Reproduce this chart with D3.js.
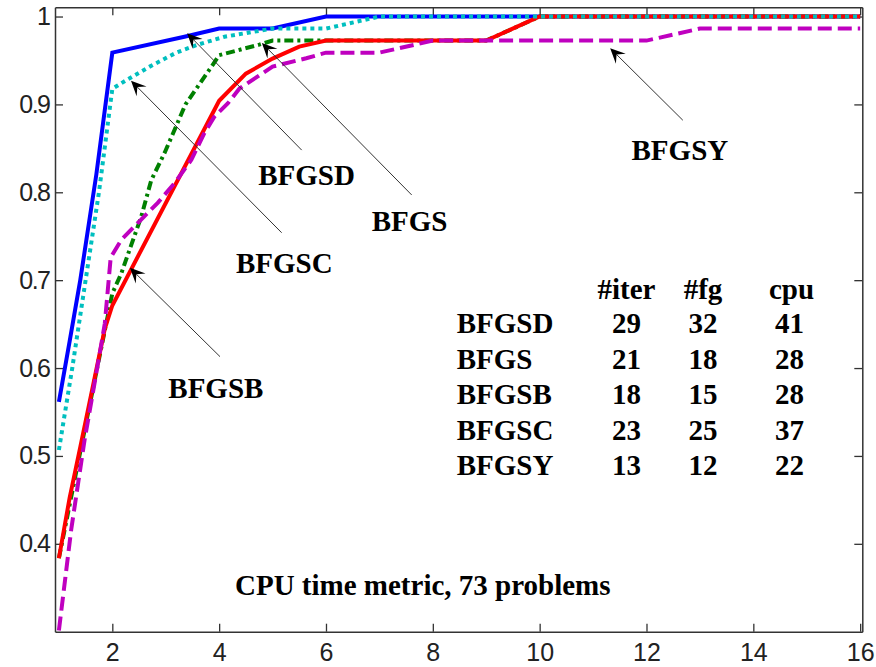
<!DOCTYPE html>
<html>
<head>
<meta charset="utf-8">
<script src="https://cdn.jsdelivr.net/npm/d3@7/dist/d3.min.js"></script>
<style>
  body { margin: 0; background: #fff; }
  svg { display: block; }
  .axis text { font-family: "Liberation Sans", Arial, sans-serif; font-size: 25px; fill: #222; }
  .y-axis text { letter-spacing: -1.5px; }
  .axis .domain { stroke: #333; stroke-width: 1.5; }
  .axis .tick line { stroke: #333; stroke-width: 1.3; }
  .lbl { font-family: "Liberation Serif", "Times New Roman", serif; font-weight: bold; font-size: 29px; fill: #000; }
</style>
</head>
<body>
<svg id="chart" width="876" height="667"></svg>
<script>
// performance profile data (fraction of 73 problems)
var bfgsdX = [1, 1.2, 1.4, 1.7, 2, 3.35, 4, 5, 6, 16];
var bfgsdY = [0.5616, 0.63, 0.70, 0.82, 0.9589, 0.977, 0.9863, 0.9863, 1, 1];

var bfgsX = [1, 1.5, 2, 2.17, 2.36, 2.54, 2.73, 2.98, 3.37, 3.88, 4, 4.75, 5, 9, 10, 16];
var bfgsY = [0.3836, 0.535, 0.685, 0.708, 0.741, 0.772, 0.814, 0.845, 0.90, 0.945, 0.956, 0.968, 0.9726, 0.9726, 1, 1];

var bfgsbX = [1, 1.2, 1.4, 1.86, 2, 4, 4.5, 5, 5.5, 6, 9, 10, 16];
var bfgsbY = [0.3836, 0.452, 0.51, 0.645, 0.6712, 0.9041, 0.935, 0.9521, 0.9658, 0.9726, 0.9726, 1, 1];

var bfgscX = [1, 1.25, 1.45, 1.75, 2, 2.3, 2.7, 3.2, 3.6, 4.1, 5, 6, 7, 16];
var bfgscY = [0.5068, 0.60, 0.68, 0.80, 0.9178, 0.929, 0.943, 0.959, 0.968, 0.977, 0.9863, 0.9863, 1, 1];

var bfgsyX = [1, 1.23, 1.48, 1.7, 1.86, 1.97, 2.17, 2.54, 2.85, 3.16, 3.48, 3.72, 3.91, 4.16, 4.38, 5, 5.63, 6, 7, 8, 12, 13, 16];
var bfgsyY = [0.3014, 0.416, 0.518, 0.594, 0.651, 0.726, 0.746, 0.769, 0.788, 0.81, 0.837, 0.867, 0.886, 0.901, 0.918, 0.943, 0.9525, 0.9589, 0.9589, 0.9726, 0.9726, 0.9863, 0.9863];

var xTicks = [2, 4, 6, 8, 10, 12, 14, 16];
var yTicks = [0.4, 0.5, 0.6, 0.7, 0.8, 0.9, 1];

// table of wins
var tableMethods = ['BFGSD', 'BFGS', 'BFGSB', 'BFGSC', 'BFGSY'];
var tableHeader = ['#iter', '#fg', 'cpu'];
var iterWins = [29, 21, 18, 23, 13];
var fgWins = [32, 18, 15, 25, 12];
var cpuWins = [41, 28, 28, 37, 22];

// annotation arrows: label, tip (x,y), tail (x,y), text anchor (x,y) in data units
var noteNames = ['BFGSD', 'BFGS', 'BFGSC', 'BFGSB', 'BFGSY'];
var noteTips = [[3.40, 0.981], [4.80, 0.970], [2.35, 0.927], [2.33, 0.714], [11.32, 0.964]];
var noteTails = [[5.545, 0.848], [7.604, 0.797], [5.17, 0.754], [4.016, 0.613], [12.68, 0.882]];
var noteText = [[4.73, 0.8085], [6.855, 0.7555], [4.315, 0.708], [3.048, 0.566], [11.72, 0.837]];

var title = 'CPU time metric, 73 problems';

var svg = d3.select('#chart');

var xScale = d3.scaleLinear().domain([0.927, 16.04]).range([55, 862.3]);
var yScale = d3.scaleLinear().domain([0.3, 1.0105]).range([631.7, 7.3]);

var fmtY = v => v === 1 ? '1' : v.toFixed(1);

svg.append('g')
    .classed('axis', true)
    .attr('transform', 'translate(0,' + yScale.range()[0] + ')')
    .call(d3.axisBottom(xScale).tickValues(xTicks).tickSizeInner(-8).tickSizeOuter(0).tickPadding(11.5));
svg.append('g')
    .classed('axis', true)
    .attr('transform', 'translate(0,' + yScale.range()[1] + ')')
    .call(d3.axisTop(xScale).tickValues(xTicks).tickSizeInner(-8).tickSizeOuter(0).tickFormat(''));
svg.append('g')
    .classed('axis y-axis', true)
    .attr('transform', 'translate(' + xScale.range()[0] + ',0)')
    .call(d3.axisLeft(yScale).tickValues(yTicks).tickSizeInner(-8).tickSizeOuter(0).tickPadding(5.5).tickFormat(fmtY));
svg.append('g')
    .classed('axis', true)
    .attr('transform', 'translate(' + xScale.range()[1] + ',0)')
    .call(d3.axisRight(yScale).tickValues(yTicks).tickSizeInner(-8).tickSizeOuter(0).tickFormat(''));

var series = [
    { xs: bfgsdX, ys: bfgsdY, color: '#0000ff', dash: null },
    { xs: bfgsX, ys: bfgsY, color: '#008000', dash: '9,4,3,4' },
    { xs: bfgsbX, ys: bfgsbY, color: '#ff0000', dash: null },
    { xs: bfgscX, ys: bfgscY, color: '#00bfbf', dash: '4,4' },
    { xs: bfgsyX, ys: bfgsyY, color: '#bf00bf', dash: '14,6' }
];

var line = d3.line()
    .x(d => xScale(d[0]))
    .y(d => yScale(d[1]));

svg.selectAll('.curve')
    .data(series)
    .enter()
    .append('path')
    .classed('curve', true)
    .attr('d', s => line(s.xs.map((x, i) => [x, s.ys[i]])))
    .attr('fill', 'none')
    .attr('stroke', s => s.color)
    .attr('stroke-width', 4)
    .attr('stroke-dasharray', s => s.dash);

// arrows
var headLen = 15, headW = 7;
noteNames.forEach(function(name, i) {
    var tx = xScale(noteTips[i][0]), ty = yScale(noteTips[i][1]);
    var sx = xScale(noteTails[i][0]), sy = yScale(noteTails[i][1]);
    var len = Math.hypot(sx - tx, sy - ty);
    var ux = (sx - tx) / len, uy = (sy - ty) / len;
    var nx = -uy, ny = ux;
    var bx = tx + ux * headLen, by = ty + uy * headLen;
    var mx = tx + ux * headLen * 0.6, my = ty + uy * headLen * 0.6;

    svg.append('line')
        .attr('x1', sx).attr('y1', sy)
        .attr('x2', mx).attr('y2', my)
        .attr('stroke', '#333')
        .attr('stroke-width', 1);
    svg.append('path')
        .attr('d', 'M' + tx + ',' + ty +
                   'L' + (bx + nx * headW) + ',' + (by + ny * headW) +
                   'L' + mx + ',' + my +
                   'L' + (bx - nx * headW) + ',' + (by - ny * headW) + 'Z')
        .attr('fill', '#000');

    svg.append('text')
        .classed('lbl', true)
        .attr('x', xScale(noteText[i][0]))
        .attr('y', yScale(noteText[i][1]))
        .text(name);
});

// wins table
var nameLeft = 456.7, firstRow = 333.3, rowStep = 35.5, headerY = 299;
var colCenters = [626.5, 703, 789.5];
var columns = [iterWins, fgWins, cpuWins];

tableHeader.forEach(function(h, j) {
    svg.append('text')
        .classed('lbl', true)
        .attr('x', colCenters[j] + (j === 2 ? 2 : 0))
        .attr('y', headerY)
        .attr('text-anchor', 'middle')
        .text(h);
});

tableMethods.forEach(function(m, i) {
    var yRow = firstRow + i * rowStep;
    svg.append('text')
        .classed('lbl', true)
        .attr('x', nameLeft)
        .attr('y', yRow)
        .text(m);
    columns.forEach(function(col, j) {
        svg.append('text')
            .classed('lbl', true)
            .attr('x', colCenters[j])
            .attr('y', yRow)
            .attr('text-anchor', 'middle')
            .text(col[i]);
    });
});

// chart title inside the axes
svg.append('text')
    .classed('lbl', true)
    .attr('x', 235)
    .attr('y', 595)
    .text(title);
</script>
</body>
</html>
